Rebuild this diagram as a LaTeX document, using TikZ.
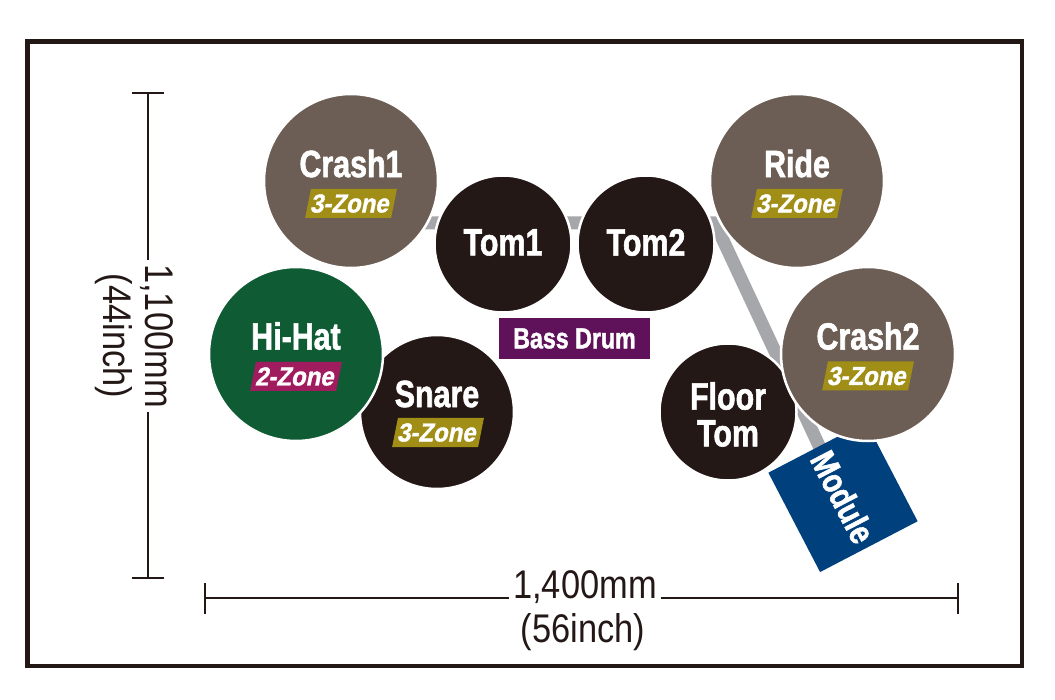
\documentclass[tikz,border=0pt]{standalone}
\usepackage{fontspec}
\setmainfont{Liberation Sans}
\newfontfamily\lblfont{Liberation Sans}[FakeStretch=0.8,FakeBold=1.5]
\newfontfamily\zonefont{Liberation Sans}[FakeStretch=0.92,FakeBold=1.5]
\newfontfamily\dimfont{Liberation Sans}[FakeStretch=0.86]
\definecolor{cymc}{RGB}{108,94,84}
\definecolor{drumc}{RGB}{35,24,21}
\definecolor{hhc}{RGB}{14,91,52}
\definecolor{olivec}{RGB}{160,142,22}
\definecolor{magc}{RGB}{160,28,95}
\definecolor{bdc}{RGB}{95,17,90}
\definecolor{modc}{RGB}{0,64,124}
\definecolor{barc}{RGB}{166,167,170}
\definecolor{framec}{RGB}{35,24,21}
\tikzset{
  pad/.style={circle, draw=white, line width=2.5pt, inner sep=0pt},
  cym/.style={pad, fill=cymc, minimum size=174pt},
  tom/.style={pad, fill=drumc, minimum size=137pt},
  lbl/.style={text=white, inner sep=0pt, font=\lblfont\bfseries\fontsize{38}{40}\selectfont},
  zone/.style={xslant=0.2, text=white, inner sep=0pt, minimum width=86pt, minimum height=29pt,
    font=\zonefont\bfseries\fontsize{26}{26}\selectfont},
  dimtxt/.style={text=framec, inner sep=4pt, align=center, font=\dimfont\fontsize{40}{42}\selectfont},
  dimline/.style={draw=framec, line width=1.5pt},
  standbar/.style={draw=barc, line width=13pt}
}
\begin{document}
\begin{tikzpicture}[x=1pt,y=-1pt]
\useasboundingbox (0,0) rectangle (1055,700);
% frame
\draw[draw=framec, line width=4.5pt] (27.5,41.5) rectangle (1022,666);

% stand bar and module
\coordinate (barL) at (400,223);
\coordinate (bend) at (715,223);
\coordinate (modpos) at (843,497);
\path[standbar] (barL) -- (bend) -- (modpos);
\node[rotate=-62.5, fill=modc, minimum width=112pt, minimum height=110pt, inner sep=0pt,
      text=white, font=\lblfont\bfseries\fontsize{35}{37}\selectfont] (mod) at (modpos) {Module};

% drums
\node[tom] (tom1) at (503,244) {};
\node[tom] (tom2) at (646,244) {};
\node[tom] (ftom) at (728,412) {};
\node[pad, fill=drumc, minimum size=154pt] (snare) at (437,412) {};
% cymbals
\node[cym] (crash1) at (351,181) {};
\node[cym] (ride) at (797,181) {};
\node[cym] (crash2) at (868,354) {};
\node[cym, fill=hhc] (hihat) at (296,354) {};

% bass drum
\node[fill=bdc, minimum width=151pt, minimum height=41pt, inner sep=0pt, text=white,
      font=\lblfont\bfseries\fontsize{29}{30}\selectfont] (bd) at (574.5,338.5) {Bass Drum};

% labels
\node[lbl] (crash1t) at (351,163.5) {Crash1};
\node[zone, fill=olivec] (crash1z) at (351,203.5) {3-Zone};
\node[lbl] (ridet) at (797,163.5) {Ride};
\node[zone, fill=olivec] (ridez) at (797,203.5) {3-Zone};
\node[lbl] (crash2t) at (868,336) {Crash2};
\node[zone, fill=olivec] (crash2z) at (868,376) {3-Zone};
\node[lbl] (hihatt) at (296,336) {Hi-Hat};
\node[zone, fill=magc] (hihatz) at (296,376.5) {2-Zone};
\node[lbl] (snaret) at (437,394) {Snare};
\node[zone, fill=olivec] (snarez) at (438,432.5) {3-Zone};
\node[lbl] (tom1t) at (503,242.5) {Tom1};
\node[lbl] (tom2t) at (646,242.5) {Tom2};
\node[lbl] (ftomt1) at (728,396) {Floor};
\node[lbl] (ftomt2) at (728,433.5) {Tom};

% vertical dimension
\coordinate (vtop) at (148,93);
\coordinate (vbot) at (148,578);
\draw[dimline] (132,93) -- (164,93);
\draw[dimline] (132,578) -- (164,578);
\node[dimtxt, rotate=-90] (vt) at (134,336) {1,100mm\\(44inch)};
\draw[dimline] (vtop) -- (vtop |- vt.west);
\draw[dimline] (vt.east -| vbot) -- (vbot);

% horizontal dimension
\coordinate (hl) at (205,598);
\coordinate (hr) at (958,598);
\draw[dimline] (205,583) -- (205,614);
\draw[dimline] (958,583) -- (958,614);
\node[dimtxt] (ht1) at (585,587) {1,400mm};
\node[dimtxt] (ht2) at (583,632) {(56inch)};
\draw[dimline] (hl) -- (hl -| ht1.west);
\draw[dimline] (hr -| ht1.east) -- (hr);
\end{tikzpicture}
\end{document}
